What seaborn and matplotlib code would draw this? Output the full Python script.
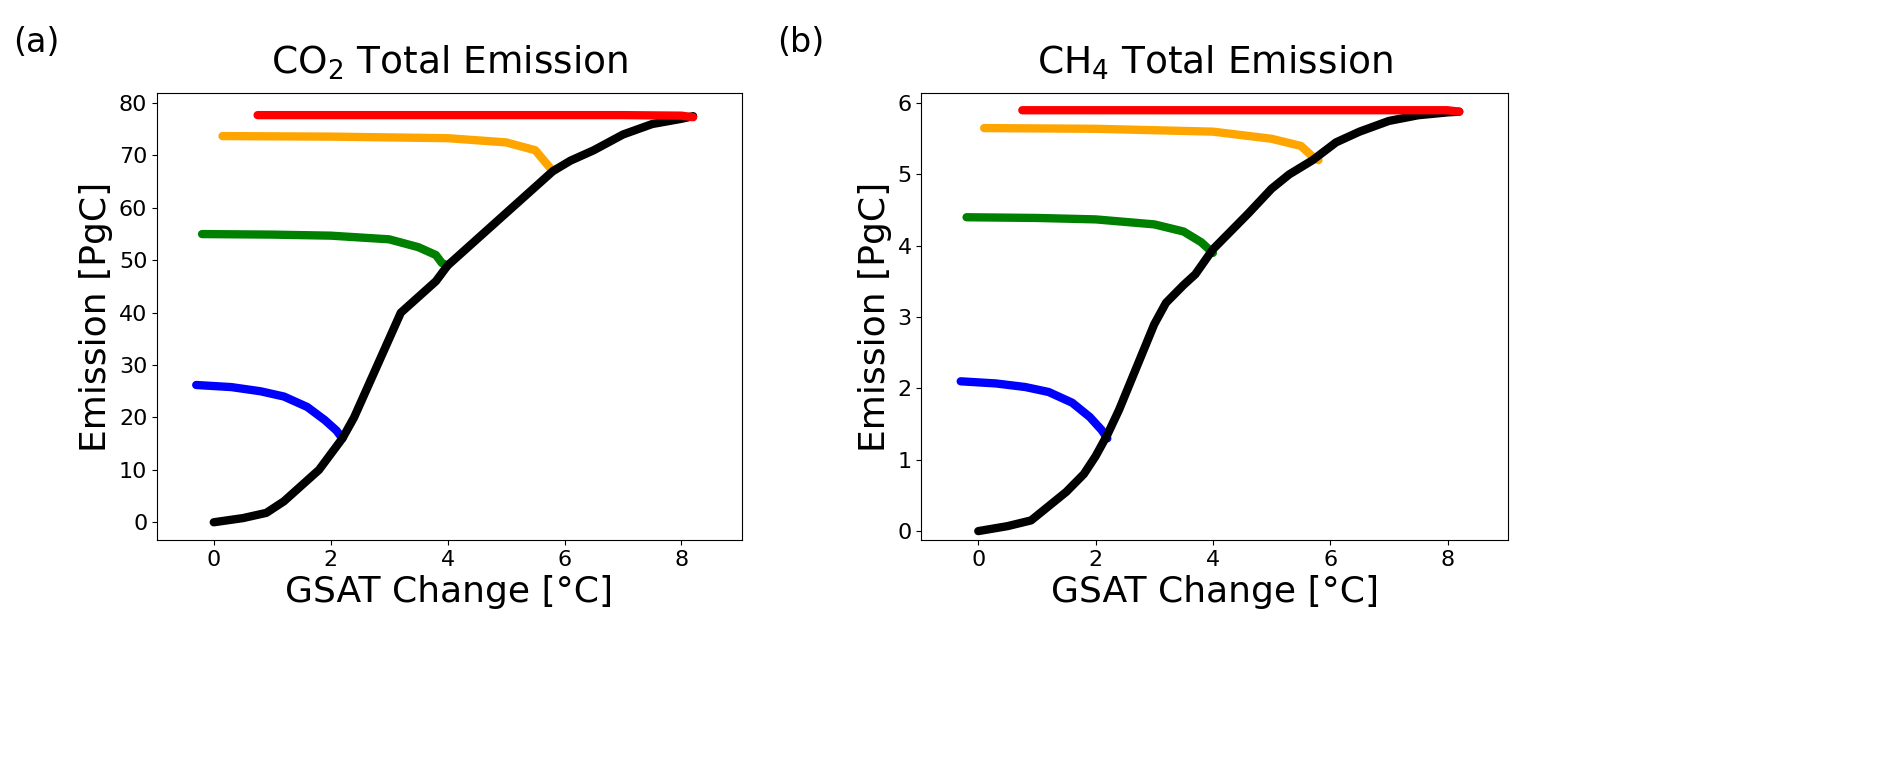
import matplotlib
matplotlib.use("Agg")
import matplotlib.pyplot as plt
import seaborn as sns
import pandas as pd

sns.set_style("ticks", {"axes.edgecolor": "black", "text.color": "black",
                        "axes.labelcolor": "black", "xtick.color": "black",
                        "ytick.color": "black"})
plt.rcParams['font.family'] = ['DejaVu Sans']
plt.rcParams['mathtext.default'] = 'regular'

co2_black_x = [0,0.5,0.9,1.2,1.5,1.8,2.0,2.2,2.4,2.6,2.8,3.0,3.2,3.5,3.8,4.0,4.3,4.6,5.0,5.3,5.6,5.8,6.1,6.5,7.0,7.5,8.0,8.2]
co2_black_y = [0,0.8,1.8,4,7,10,13,16,20,25,30,35,40,43,46,49,52,55,59,62,65,67,69,71,74,76,77,77.5]
co2_blue_x = [-0.3,0.3,0.8,1.2,1.6,1.9,2.1,2.2]
co2_blue_y = [26.2,25.8,25,24,22,19.5,17.5,16]
co2_green_x = [-0.2,1,2,3,3.5,3.8,3.9,4.0]
co2_green_y = [55,54.9,54.7,54,52.5,51,49.5,49]
co2_orange_x = [0.15,2,4,5,5.5,5.65,5.8]
co2_orange_y = [73.7,73.6,73.3,72.5,71,69,67]
co2_red_x = [0.75,4,7,8,8.2]
co2_red_y = [77.7,77.7,77.7,77.6,77.3]

ch4_black_x = [0,0.5,0.9,1.2,1.5,1.8,2.0,2.2,2.4,2.6,2.8,3.0,3.2,3.5,3.7,4.0,4.3,4.6,5.0,5.3,5.7,6.1,6.5,7.0,7.5,8.0,8.2]
ch4_black_y = [0,0.07,0.15,0.35,0.55,0.8,1.05,1.35,1.7,2.1,2.5,2.9,3.2,3.45,3.6,3.95,4.2,4.45,4.8,5.0,5.2,5.45,5.6,5.75,5.83,5.87,5.88]
ch4_blue_x = [-0.3,0.3,0.8,1.2,1.6,1.9,2.1,2.2]
ch4_blue_y = [2.1,2.07,2.02,1.95,1.8,1.6,1.42,1.3]
ch4_green_x = [-0.2,1,2,3,3.5,3.8,4.0]
ch4_green_y = [4.4,4.39,4.37,4.3,4.2,4.05,3.9]
ch4_orange_x = [0.1,2,4,5,5.5,5.7,5.8]
ch4_orange_y = [5.65,5.64,5.6,5.5,5.4,5.25,5.2]
ch4_red_x = [0.75,8,8.2]
ch4_red_y = [5.9,5.9,5.88]

fig = plt.figure(figsize=(18.92, 7.76), dpi=100)
axes = [fig.add_axes([0.083, 0.304, 0.309, 0.576]),
        fig.add_axes([0.487, 0.304, 0.310, 0.576])]

panels = [
    ("(a)", r"CO$_2$ Total Emission", (-3.4, 81.9), [0,10,20,30,40,50,60,70,80],
     [(co2_blue_x, co2_blue_y, "blue"), (co2_green_x, co2_green_y, "green"),
      (co2_orange_x, co2_orange_y, "orange"), (co2_black_x, co2_black_y, "black"),
      (co2_red_x, co2_red_y, "red")]),
    ("(b)", r"CH$_4$ Total Emission", (-0.126, 6.14), [0,1,2,3,4,5,6],
     [(ch4_blue_x, ch4_blue_y, "blue"), (ch4_green_x, ch4_green_y, "green"),
      (ch4_orange_x, ch4_orange_y, "orange"), (ch4_black_x, ch4_black_y, "black"),
      (ch4_red_x, ch4_red_y, "red")]),
]

for ax, (lab, title, ylim, yt, series) in zip(axes, panels):
    for xs, ys, c in series:
        df = pd.DataFrame({"x": xs, "y": ys})
        sns.lineplot(data=df, x="x", y="y", ax=ax, color=c, lw=6, sort=False,
                     solid_capstyle="round")
    ax.set_xlim(-0.97, 9.03)
    ax.set_ylim(*ylim)
    ax.set_xticks([0, 2, 4, 6, 8])
    ax.set_yticks(yt)
    ax.tick_params(labelsize=16)
    ax.set_xlabel("GSAT Change [°C]", fontsize=26)
    ax.set_ylabel("Emission [PgC]", fontsize=26)
    ax.set_title(title, fontsize=27, pad=14)
    pos = ax.get_position()
    fig.text(pos.x0 - 0.076, 0.945, lab, fontsize=24, ha="left", va="center")

fig.savefig("out.png", dpi=100)
